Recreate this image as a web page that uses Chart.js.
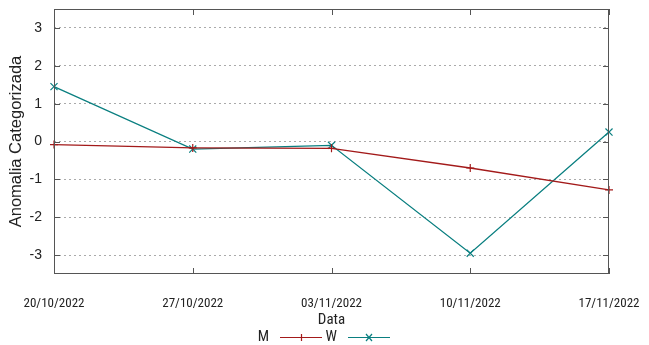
<!DOCTYPE html>
<html>
<head>
<meta charset="utf-8">
<script src="https://cdn.jsdelivr.net/npm/chart.js@4.4.0/dist/chart.umd.min.js"></script>
<style>
  html, body { margin: 0; padding: 0; background: #fff; }
  #wrap { width: 649px; height: 345px; }
</style>
</head>
<body>
<div id="wrap"><canvas id="chart" width="649" height="345"></canvas></div>
<script>
// Chart data
const dates = ['20/10/2022', '27/10/2022', '03/11/2022', '10/11/2022', '17/11/2022'];
const seriesM = [-0.08, -0.17, -0.18, -0.7, -1.28];
const seriesW = [1.45, -0.2, -0.1, -2.95, 0.25];
const yTicks = [-3, -2, -1, 0, 1, 2, 3];

const narrow = '"Roboto Condensed", "Liberation Sans", sans-serif';
const regular = '"Liberation Sans", Arial, sans-serif';

// Draws the plot frame and gnuplot style inward ticks
const frameTicks = {
  id: 'frameTicks',
  afterDraw(chart) {
    const { ctx, chartArea: a, scales } = chart;
    ctx.save();
    ctx.strokeStyle = '#555';
    ctx.lineWidth = 1;
    ctx.strokeRect(a.left + 0.5, a.top + 0.5, a.right - a.left - 1, a.bottom - a.top - 1);
    ctx.beginPath();
    scales.x.ticks.forEach((t, i) => {
      const x = Math.round(scales.x.getPixelForTick(i)) + 0.5;
      ctx.moveTo(x, a.bottom); ctx.lineTo(x, a.bottom - 6);
      ctx.moveTo(x, a.top); ctx.lineTo(x, a.top + 6);
    });
    scales.y.ticks.forEach((t, i) => {
      const y = Math.round(scales.y.getPixelForTick(i)) + 0.5;
      ctx.moveTo(a.left, y); ctx.lineTo(a.left + 6, y);
      ctx.moveTo(a.right, y); ctx.lineTo(a.right - 6, y);
    });
    ctx.stroke();
    ctx.restore();
  }
};

// Legend with the label before the line sample, like gnuplot
const keyLegend = {
  id: 'keyLegend',
  afterDraw(chart) {
    const { ctx } = chart;
    const y = 337;
    let x = 269;
    ctx.save();
    ctx.font = '15px ' + narrow;
    ctx.textBaseline = 'middle';
    chart.data.datasets.forEach((ds) => {
      ctx.fillStyle = '#222';
      ctx.textAlign = 'right';
      ctx.fillText(ds.label, x, y);
      const x0 = x + 11, x1 = x + 53, xm = (x0 + x1) / 2;
      ctx.strokeStyle = ds.borderColor;
      ctx.lineWidth = 1.2;
      ctx.beginPath();
      ctx.moveTo(x0, y + 0.5); ctx.lineTo(x1, y + 0.5);
      if (ds.pointStyle === 'cross') {
        ctx.moveTo(xm + 0.5, y - 3); ctx.lineTo(xm + 0.5, y + 4);
      } else {
        ctx.moveTo(xm - 3, y - 3); ctx.lineTo(xm + 3, y + 4);
        ctx.moveTo(xm + 3, y - 3); ctx.lineTo(xm - 3, y + 4);
      }
      ctx.stroke();
      x += 68;
    });
    ctx.restore();
  }
};

new Chart(document.getElementById('chart'), {
  type: 'line',
  data: {
    labels: dates,
    datasets: [
      {
        label: 'M',
        data: seriesM,
        borderColor: '#a31a1a',
        backgroundColor: '#a31a1a',
        borderWidth: 1.3,
        tension: 0,
        pointStyle: 'cross',
        pointRadius: 4,
        pointBorderWidth: 1.2,
      },
      {
        label: 'W',
        data: seriesW,
        borderColor: '#0a7f80',
        backgroundColor: '#0a7f80',
        borderWidth: 1.3,
        tension: 0,
        pointStyle: 'crossRot',
        pointRadius: 5,
        pointBorderWidth: 1.2,
      },
    ],
  },
  options: {
    responsive: false,
    animation: false,
    layout: { padding: { left: 0, right: 40, top: 9, bottom: 16 } },
    plugins: {
      legend: { display: false },
      tooltip: { enabled: false },
    },
    scales: {
      x: {
        type: 'category',
        offset: false,
        afterFit: (scale) => {
          scale.height = 55;
          scale.paddingLeft = 0;
          scale.paddingRight = 0;
        },
        grid: { display: false, drawTicks: false },
        border: { display: false },
        ticks: {
          padding: 22,
          maxRotation: 0,
          autoSkip: false,
          color: '#222',
          font: { family: narrow, size: 13 },
        },
        title: {
          display: true,
          text: 'Data',
          color: '#222',
          padding: { top: 0, bottom: 0 },
          font: { family: narrow, size: 15 },
        },
      },
      y: {
        min: -3.5,
        max: 3.5,
        afterBuildTicks: (scale) => {
          scale.ticks = yTicks.map((v) => ({ value: v }));
        },
        afterFit: (scale) => {
          scale.width = 54;
          scale.paddingTop = 0;
          scale.paddingBottom = 0;
        },
        grid: {
          color: '#aaa',
          lineWidth: 1,
          drawTicks: false,
        },
        border: { display: false, dash: [2, 3] },
        ticks: {
          padding: 12,
          color: '#222',
          font: { family: regular, size: 14 },
        },
        title: {
          display: true,
          text: 'Anomalia Categorizada',
          color: '#222',
          padding: { top: 7, bottom: 0 },
          font: { family: regular, size: 16.5 },
        },
      },
    },
  },
  plugins: [frameTicks, keyLegend],
});
</script>
</body>
</html>
